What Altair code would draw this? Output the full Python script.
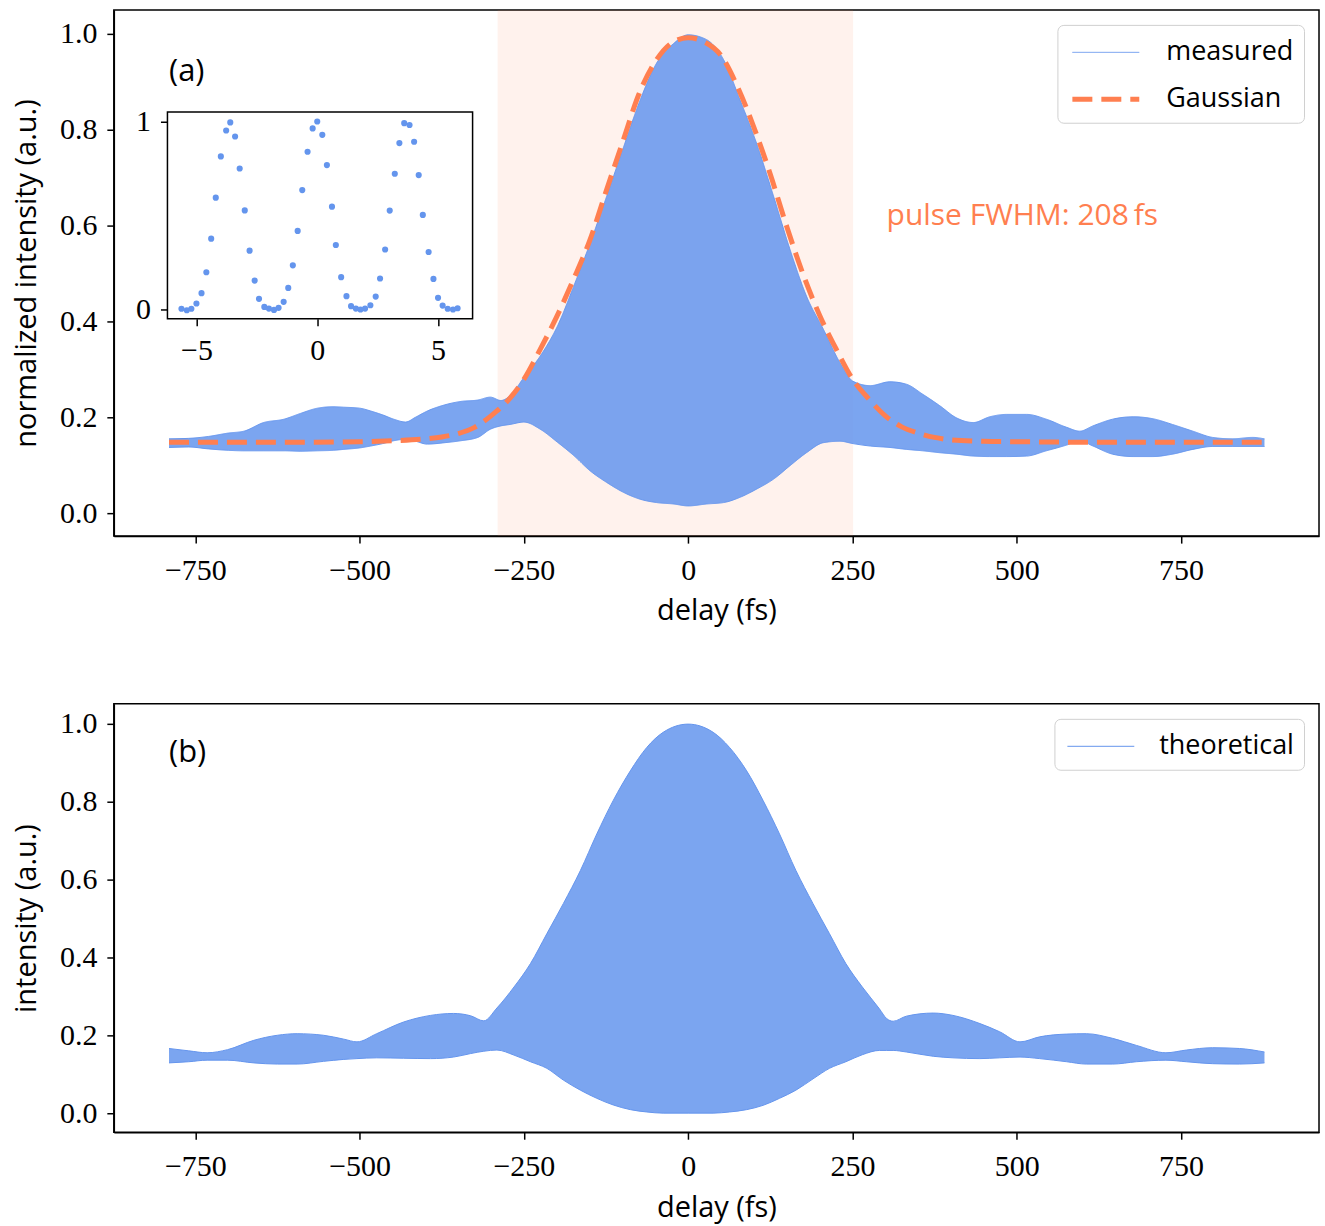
import altair as alt
import pandas as pd

# ---------------- data ----------------
# (a) measured fringe envelope: upper / lower extent of the fast oscillation
meas_delay = [-790, -760, -730, -700, -676, -646, -615, -590, -564, -540, -524, -500, -483, -465, -448,
              -430, -415, -397, -370, -346, -320, -301, -285, -271, -250, -225, -199, -174, -149, -124,
              -98, -73, -48, -22, 0, 28, 54, 79, 104, 130, 155, 180, 206, 231, 251, 277, 307, 332, 357,
              383, 408, 434, 459, 485, 515, 545, 576, 596, 616, 646, 677, 707, 737, 768, 798, 828, 859, 877]
meas_upper = [0.155, 0.156, 0.160, 0.167, 0.171, 0.189, 0.196, 0.208, 0.219, 0.222, 0.221, 0.219, 0.213, 0.205, 0.196,
              0.190, 0.200, 0.213, 0.226, 0.233, 0.236, 0.242, 0.235, 0.245, 0.283, 0.328, 0.390, 0.474, 0.564, 0.661,
              0.765, 0.862, 0.939, 0.980, 0.998, 0.988, 0.946, 0.862, 0.772, 0.661, 0.550, 0.453, 0.383, 0.314, 0.275,
              0.266, 0.274, 0.269, 0.248, 0.224, 0.199, 0.189, 0.201, 0.206, 0.206, 0.196, 0.179, 0.171, 0.182, 0.196,
              0.201, 0.197, 0.185, 0.171, 0.158, 0.155, 0.158, 0.155]
meas_lower = [0.137, 0.138, 0.134, 0.131, 0.130, 0.130, 0.130, 0.129, 0.130, 0.131, 0.133, 0.136, 0.140, 0.145, 0.151,
              0.154, 0.150, 0.144, 0.147, 0.151, 0.158, 0.175, 0.182, 0.185, 0.190, 0.175, 0.148, 0.120, 0.088, 0.064,
              0.043, 0.029, 0.022, 0.019, 0.015, 0.019, 0.022, 0.033, 0.050, 0.071, 0.099, 0.126, 0.147, 0.150, 0.145,
              0.140, 0.137, 0.133, 0.130, 0.126, 0.123, 0.119, 0.118, 0.118, 0.119, 0.130, 0.142, 0.151, 0.140, 0.123,
              0.118, 0.118, 0.123, 0.133, 0.139, 0.139, 0.139, 0.139]

# (a) Gaussian fit (dashed)
gauss_delay = [-790, -600, -500, -450, -400, -375, -350, -325, -300, -275, -250, -225, -200, -175, -150,
               -125, -100, -75, -50, -25, 0, 25, 50, 75, 100, 125, 150, 175, 200, 225, 250, 275, 300,
               325, 350, 375, 400, 450, 500, 600, 877]
gauss_value = [0.148, 0.148, 0.149, 0.151, 0.155, 0.159, 0.166, 0.179, 0.203, 0.234, 0.279, 0.342, 0.410, 0.486, 0.568,
               0.671, 0.773, 0.874, 0.942, 0.981, 0.992, 0.983, 0.955, 0.890, 0.805, 0.707, 0.598, 0.498, 0.413,
               0.343, 0.280, 0.238, 0.203, 0.180, 0.167, 0.158, 0.153, 0.150, 0.149, 0.148, 0.148]

# shaded delay window and annotation
shade_start, shade_end = -290, 251
fwhm_text = "pulse FWHM: 208\u2009fs"

# (a) inset: individual samples around zero delay
inset_delay = [-5.62, -5.40, -5.21, -5.00, -4.79, -4.59, -4.39, -4.20, -3.99, -3.77, -3.60, -3.40, -3.21, -3.00,
               -2.80, -2.59, -2.41, -2.19, -2.00, -1.79, -1.60, -1.39, -1.20, -1.01, -0.81, -0.62, -0.40, -0.19,
               0.00, 0.21, 0.40, 0.61, 0.77, 0.99, 1.21, 1.40, 1.60, 1.79, 1.98, 2.20, 2.42, 2.60, 2.81, 3.00,
               3.21, 3.40, 3.60, 3.82, 4.01, 4.20, 4.37, 4.61, 4.81, 5.00, 5.19, 5.40, 5.62, 5.81]
inset_value = [0.004, -0.004, 0.004, 0.032, 0.087, 0.198, 0.377, 0.595, 0.814, 0.952, 0.995, 0.920, 0.750, 0.527,
               0.313, 0.154, 0.057, 0.014, 0.005, -0.002, 0.009, 0.041, 0.115, 0.235, 0.418, 0.635, 0.839, 0.963,
               1.000, 0.929, 0.768, 0.547, 0.343, 0.172, 0.071, 0.018, 0.005, 0.000, 0.005, 0.023, 0.069, 0.165,
               0.319, 0.526, 0.722, 0.885, 0.991, 0.981, 0.892, 0.715, 0.503, 0.306, 0.163, 0.062, 0.021, 0.004,
               0.000, 0.007]

# (b) theoretical fringe envelope
theo_delay = [-790, -760, -732, -701, -661, -625, -595, -555, -524, -504, -474, -433, -392, -357, -331,
              -311, -291, -265, -240, -215, -190, -164, -139, -114, -88, -63, -38, 0, 38, 63,
              89, 114, 139, 164, 190, 215, 240, 265, 291, 302, 312, 332, 373, 403, 444,
              474, 505, 535, 576, 606, 646, 682, 727, 758, 798, 839, 877]
theo_upper = [0.166, 0.160, 0.155, 0.163, 0.187, 0.200, 0.204, 0.200, 0.190, 0.183, 0.204, 0.234, 0.251, 0.256, 0.250,
              0.237, 0.270, 0.324, 0.384, 0.461, 0.538, 0.623, 0.717, 0.803, 0.879, 0.939, 0.978, 0.999, 0.978, 0.939,
              0.879, 0.803, 0.717, 0.623, 0.538, 0.461, 0.384, 0.324, 0.268, 0.243, 0.236, 0.249, 0.257, 0.251, 0.230,
              0.209, 0.183, 0.196, 0.203, 0.204, 0.192, 0.174, 0.155, 0.162, 0.168, 0.166, 0.157]
theo_lower = [0.129, 0.132, 0.136, 0.136, 0.129, 0.126, 0.126, 0.133, 0.138, 0.140, 0.142, 0.141, 0.140, 0.144, 0.153,
              0.159, 0.162, 0.149, 0.132, 0.115, 0.085, 0.059, 0.038, 0.021, 0.009, 0.003, 0.000, 0.000, 0.000, 0.003,
              0.009, 0.020, 0.038, 0.059, 0.088, 0.115, 0.132, 0.150, 0.161, 0.161, 0.161, 0.157, 0.146, 0.142, 0.140,
              0.142, 0.144, 0.140, 0.132, 0.126, 0.126, 0.132, 0.136, 0.132, 0.127, 0.126, 0.129]

x_ticks = [-750, -500, -250, 0, 250, 500, 750]
y_ticks = [0.0, 0.2, 0.4, 0.6, 0.8, 1.0]
inset_x_ticks = [-5, 0, 5]
inset_y_ticks = [0, 1]
top_series = ["measured", "Gaussian"]
bot_series = ["theoretical"]

# ---------------- tables ----------------
env_top = pd.DataFrame({"delay": meas_delay, "upper": meas_upper, "lower": meas_lower})
lines_top = pd.concat([
    pd.DataFrame({"delay": meas_delay, "value": meas_upper, "series": "measured", "part": "upper"}),
    pd.DataFrame({"delay": meas_delay, "value": meas_lower, "series": "measured", "part": "lower"}),
    pd.DataFrame({"delay": gauss_delay, "value": gauss_value, "series": "Gaussian", "part": "fit"}),
], ignore_index=True)
env_bot = pd.DataFrame({"delay": theo_delay, "upper": theo_upper, "lower": theo_lower})
lines_bot = pd.concat([
    pd.DataFrame({"delay": theo_delay, "value": theo_upper, "series": "theoretical", "part": "upper"}),
    pd.DataFrame({"delay": theo_delay, "value": theo_lower, "series": "theoretical", "part": "lower"}),
], ignore_index=True)
shade_df = pd.DataFrame({"start": [shade_start], "end": [shade_end]})
inset_df = pd.DataFrame({"t": inset_delay, "v": inset_value})
one = pd.DataFrame({"k": [0]})

# ---------------- styling ----------------
W = 1207
H_TOP = 527
H_BOT = 429
BLUE = "#6495ED"
CORAL = "#FF7F50"
SANS = "Open Sans"

XDOM = [-874, 960]
x_scale_t = alt.Scale(domain=XDOM, nice=False, zero=False)
y_scale_t = alt.Scale(domain=[-0.048, 1.05], nice=False, zero=False)
x_scale_b = alt.Scale(domain=XDOM, nice=False, zero=False)
y_scale_b = alt.Scale(domain=[-0.049, 1.051], nice=False, zero=False)
x_axis = alt.Axis(values=x_ticks, format="d", title="delay (fs)")
y_axis_t = alt.Axis(values=y_ticks, format=".1f", title="normalized intensity (a.u.)")
y_axis_b = alt.Axis(values=y_ticks, format=".1f", title="intensity (a.u.)")

# legend line symbol twice as long as its nominal size, so rows stay compact
LEG_SYMBOL = "M-2,0H2"


def legend():
    return alt.Legend(title=None, orient="top-right", offset=15, padding=10, fillColor="white",
                      strokeColor="#d0d0d0", cornerRadius=6, labelFont=SANS, labelFontSize=27,
                      labelColor="black", symbolType=LEG_SYMBOL, symbolSize=1122, labelOffset=41,
                      symbolOffset=19, rowPadding=14)


# ---------------- panel (a) ----------------
shade = alt.Chart(shade_df).mark_rect(color=CORAL, opacity=0.1).encode(
    x=alt.X("start:Q", scale=x_scale_t, axis=x_axis), x2="end:Q")

area_t = alt.Chart(env_top).mark_area(color=BLUE, opacity=0.85, interpolate="monotone").encode(
    x=alt.X("delay:Q", scale=x_scale_t, axis=x_axis),
    y=alt.Y("upper:Q", scale=y_scale_t, axis=y_axis_t), y2="lower:Q")

leg_t = legend()
line_t = alt.Chart(lines_top).mark_line(interpolate="monotone").encode(
    x=alt.X("delay:Q", scale=x_scale_t, axis=x_axis),
    y=alt.Y("value:Q", scale=y_scale_t, axis=y_axis_t),
    color=alt.Color("series:N", scale=alt.Scale(domain=top_series, range=[BLUE, CORAL]), legend=leg_t),
    strokeDash=alt.StrokeDash("series:N", scale=alt.Scale(domain=top_series, range=[[1, 0], [20, 9]]), legend=leg_t),
    strokeWidth=alt.StrokeWidth("series:N", scale=alt.Scale(domain=top_series, range=[1, 5]), legend=leg_t),
    detail="part:N")

lab_a = alt.Chart(one).mark_text(align="left", baseline="middle", font=SANS, fontSize=31, color="black").encode(
    x=alt.datum(-790), y=alt.datum(0.92), text=alt.value("(a)"))
lab_fwhm = alt.Chart(one).mark_text(align="left", baseline="middle", font=SANS, fontSize=30, color=CORAL).encode(
    x=alt.datum(302), y=alt.datum(0.62), text=alt.value(fwhm_text))

main_t = alt.layer(shade, area_t, line_t, lab_a, lab_fwhm)

# inset placed inside panel (a) through its own scales
IXDOM = [-6.2, 6.43]
IYDOM = [-0.049, 1.05]
IX_RANGE = [53.7, 359.3]
IY_RANGE = [309.3, 102.3]
ix = alt.Scale(domain=IXDOM, range=IX_RANGE, nice=False, zero=False)
iy = alt.Scale(domain=IYDOM, range=IY_RANGE, nice=False, zero=False)
ix_axis = alt.Axis(orient="bottom", offset=-(H_TOP - IY_RANGE[0]), values=inset_x_ticks, format="d",
                   title=None, domain=False, labelPadding=10)
iy_axis = alt.Axis(orient="left", offset=-IX_RANGE[0], values=inset_y_ticks, format="d",
                   title=None, domain=False)

frame = alt.Chart(one).mark_rect(fill="white", stroke="black", strokeWidth=1.5).encode(
    x=alt.XDatum(IXDOM[0], scale=ix, axis=ix_axis), x2=alt.X2Datum(IXDOM[1]),
    y=alt.YDatum(IYDOM[0], scale=iy, axis=iy_axis), y2=alt.Y2Datum(IYDOM[1]))
pts = alt.Chart(inset_df).mark_circle(size=38, color=BLUE, opacity=1).encode(
    x=alt.X("t:Q", scale=ix, axis=ix_axis), y=alt.Y("v:Q", scale=iy, axis=iy_axis))
inset = alt.layer(frame, pts)

top = alt.layer(main_t, inset).resolve_scale(x="independent", y="independent").properties(
    width=W, height=H_TOP)

# ---------------- panel (b) ----------------
area_b = alt.Chart(env_bot).mark_area(color=BLUE, opacity=0.85, interpolate="monotone").encode(
    x=alt.X("delay:Q", scale=x_scale_b, axis=x_axis),
    y=alt.Y("upper:Q", scale=y_scale_b, axis=y_axis_b), y2="lower:Q")
leg_b = legend()
line_b = alt.Chart(lines_bot).mark_line(interpolate="monotone").encode(
    x=alt.X("delay:Q", scale=x_scale_b, axis=x_axis),
    y=alt.Y("value:Q", scale=y_scale_b, axis=y_axis_b),
    color=alt.Color("series:N", scale=alt.Scale(domain=bot_series, range=[BLUE]), legend=leg_b),
    strokeWidth=alt.StrokeWidth("series:N", scale=alt.Scale(domain=bot_series, range=[1, 1]), legend=leg_b),
    detail="part:N")
lab_b = alt.Chart(one).mark_text(align="left", baseline="middle", font=SANS, fontSize=31, color="black").encode(
    x=alt.datum(-790), y=alt.datum(0.926), text=alt.value("(b)"))
bottom = alt.layer(area_b, line_b, lab_b).properties(width=W, height=H_BOT)

chart = alt.vconcat(top, bottom, spacing=76).resolve_scale(
    x="independent", y="independent", color="independent",
    strokeDash="independent", strokeWidth="independent"
).properties(
    padding={"left": 11, "top": 8, "right": 5, "bottom": 5}
).configure_axis(
    labelFont="Liberation Serif", labelFontSize=30, labelColor="black",
    titleFont=SANS, titleFontSize=29, titleFontWeight="normal", titleColor="black",
    domainColor="black", domainWidth=1.5, tickColor="black", tickWidth=1.5, tickSize=7,
    grid=False, labelPadding=12, titlePadding=12
).configure_axisY(titlePadding=18, labelPadding=10).configure_view(stroke="black", strokeWidth=1.5)

chart.save("out.html", embed_options={"renderer": "svg", "actions": False})
